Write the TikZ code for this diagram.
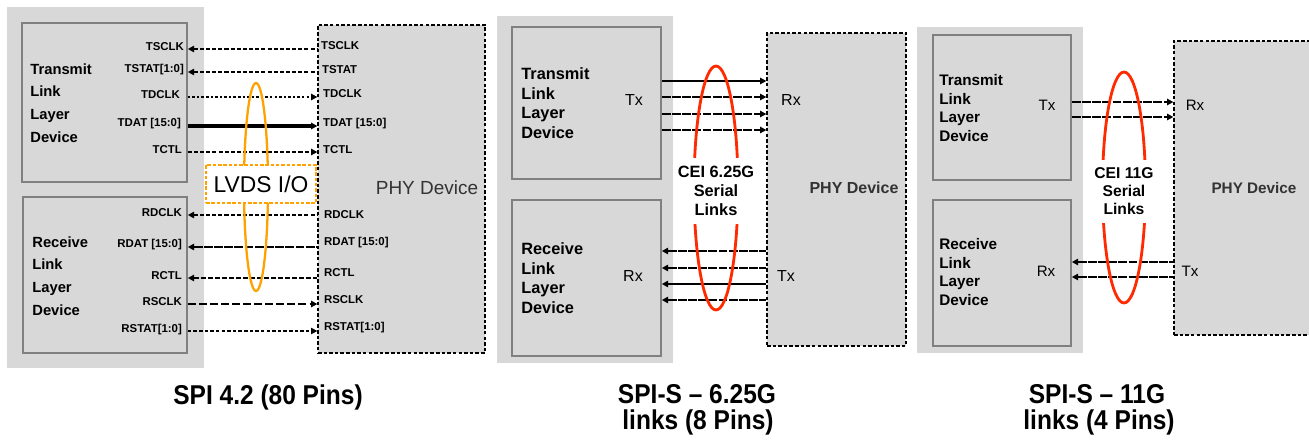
\documentclass[tikz,border=0pt]{standalone}
\usepackage{fontspec}
\usepackage{graphicx}
\setmainfont{Liberation Sans}
\usetikzlibrary{arrows.meta,shapes.geometric,fit}
\definecolor{bggray}{HTML}{D8D8D8}
\definecolor{boxgray}{HTML}{808080}
\definecolor{lvdsorange}{HTML}{FFA200}
\definecolor{linkred}{HTML}{FF2A00}
\definecolor{phytext}{HTML}{333333}
\begin{document}
\begin{tikzpicture}[x=0.02cm,y=-0.02cm,
  bgarea/.style={fill=bggray, draw=none, inner sep=0pt},
  linkbox/.style={fill=bggray, draw=boxgray, line width=0.9pt, inner sep=0pt},
  phybox/.style={fill=bggray, draw=black, dash pattern=on 2pt off 1.2pt, line width=0.7pt, inner sep=0pt},
  siglabel/.style={font=\bfseries\fontsize{6.5}{7}\selectfont, inner sep=1pt},
  toleft/.style={{Triangle[length=3.6pt,width=3.6pt]}-},
  toright/.style={-{Triangle[length=3.6pt,width=3.6pt]}},
  dashA/.style={line width=0.9pt, dash pattern=on 2.3pt off 1.2pt},
  dotB/.style={line width=1.1pt, dash pattern=on 1.4pt off 1.2pt},
  thickbus/.style={line width=1.8pt},
  busdash/.style={line width=1.6pt, dash pattern=on 5pt off 0.8pt},
  ctldash/.style={line width=1.2pt, dash pattern=on 3pt off 1pt},
  longdash/.style={line width=1.3pt, dash pattern=on 4.5pt off 1.8pt},
  thindash/.style={line width=0.6pt, dash pattern=on 2pt off 1.2pt},
  serialsolid/.style={line width=1.3pt},
  serialdash/.style={line width=1.3pt, dash pattern=on 5pt off 0.8pt},
  blocktext/.style={anchor=west, align=left, inner sep=0pt},
  txrx/.style={inner sep=0pt},
  ring/.style={ellipse, inner sep=0pt, fill=none},
  captext/.style={anchor=base, inner sep=0pt, font=\bfseries\fontsize{15.5}{18}\selectfont}
]
\useasboundingbox (0,0) rectangle (1309,444);

% ---------------- backgrounds ----------------
\node[bgarea, fit={(7,7) (204,368)}] (bg1) {};
\node[bgarea, fit={(497,16) (673,363)}] (bg2) {};
\node[bgarea, fit={(917,27) (1083,353)}] (bg3) {};

% ---------------- panel 1 boxes ----------------
\node[linkbox, fit={(22,23) (187,182)}] (tx1) {};
\node[linkbox, fit={(23,197) (187,353)}] (rx1) {};
\node[phybox, fit={(318,25) (485,353)}] (phy1) {};

% ---------------- panel 2 boxes ----------------
\node[linkbox, fit={(512,27) (661,179)}] (tx2) {};
\node[linkbox, fit={(512,200) (661,356)}] (rx2) {};
\node[phybox, fit={(767,33) (906,346)}] (phy2) {};

% ---------------- panel 3 boxes ----------------
\node[linkbox, fit={(933,35) (1071,180)}] (tx3) {};
\node[linkbox, fit={(933,200) (1071,346)}] (rx3) {};
\node[phybox, fit={(1174,41) (1320,335)}] (phy3) {};

% ---------------- panel 1 signals ----------------
\draw[dashA, toleft]   (tx1.east |- 0,49)  -- (phy1.west |- 0,49);
\draw[dashA, toleft]   (tx1.east |- 0,72)  -- (phy1.west |- 0,72);
\draw[dotB, toright]   (tx1.east |- 0,97)  -- (phy1.west |- 0,97);
\draw[thickbus, toright] (tx1.east |- 0,126) -- (phy1.west |- 0,126);
\draw[dashA, toright]  (tx1.east |- 0,152) -- (phy1.west |- 0,152);
\draw[dashA, toleft]   (rx1.east |- 0,215) -- (phy1.west |- 0,215);
\draw[busdash, toleft] (rx1.east |- 0,247) -- (phy1.west |- 0,247);
\draw[ctldash, toleft] (rx1.east |- 0,278) -- (phy1.west |- 0,278);
\draw[longdash, toright] (rx1.east |- 0,304) -- (phy1.west |- 0,304);
\draw[thindash, toright] (rx1.east |- 0,331) -- (phy1.west |- 0,331);

% ---------------- panel 2 links ----------------
\draw[serialsolid, toright] (tx2.east |- 0,81)  -- (phy2.west |- 0,81);
\draw[serialdash, toright]  (tx2.east |- 0,97)  -- (phy2.west |- 0,97);
\draw[serialdash, toright]  (tx2.east |- 0,114) -- (phy2.west |- 0,114);
\draw[serialdash, toright]  (tx2.east |- 0,130) -- (phy2.west |- 0,130);
\draw[serialdash, toleft]   (rx2.east |- 0,251) -- (phy2.west |- 0,251);
\draw[serialdash, toleft]   (rx2.east |- 0,268) -- (phy2.west |- 0,268);
\draw[serialsolid, toleft]  (rx2.east |- 0,284) -- (phy2.west |- 0,284);
\draw[serialdash, toleft]   (rx2.east |- 0,300) -- (phy2.west |- 0,300);

% ---------------- panel 3 links ----------------
\draw[serialdash, toright] (tx3.east |- 0,102) -- (phy3.west |- 0,102);
\draw[serialdash, toright] (tx3.east |- 0,117) -- (phy3.west |- 0,117);
\draw[serialdash, toleft]  (rx3.east |- 0,262) -- (phy3.west |- 0,262);
\draw[serialdash, toleft]  (rx3.east |- 0,277) -- (phy3.west |- 0,277);

% ---------------- rings ----------------
\node[ring, draw=lvdsorange, line width=1.3pt, minimum width=0.48cm, minimum height=4.16cm] (ring1) at (256,187) {};
\node[ring, draw=linkred, line width=1.6pt, minimum width=0.88cm, minimum height=4.88cm] (ring2) at (716,188) {};
\node[ring, draw=linkred, line width=1.6pt, minimum width=0.86cm, minimum height=4.62cm] (ring3) at (1124,187.5) {};

% ---------------- LVDS box ----------------
\node[fill=white, draw=lvdsorange, dash pattern=on 2pt off 1pt, line width=0.9pt,
      minimum width=2.2cm, minimum height=0.76cm, inner sep=0pt,
      font=\fontsize{13}{15}\selectfont] (lvds) at (261,184) {LVDS I/O};

% ---------------- CEI labels ----------------
\node[fill=white, align=center, inner sep=0pt, minimum height=1.32cm,
      font=\bfseries\fontsize{9.3}{10.8}\selectfont] (cei2) at (716,191) {CEI 6.25G\\Serial\\Links};
\node[fill=white, align=center, inner sep=0pt, minimum height=1.26cm,
      font=\bfseries\fontsize{8.9}{10.4}\selectfont] (cei3) at (1124,191) {CEI 11G\\Serial\\Links};

% ---------------- panel 1 texts ----------------
\node[blocktext, font=\bfseries\fontsize{8.4}{13}\selectfont] (tx1text) at (30,103) {Transmit\\Link\\Layer\\Device};
\node[blocktext, font=\bfseries\fontsize{8.4}{13}\selectfont] (rx1text) at (32,276) {Receive\\Link\\Layer\\Device};

\node[siglabel, anchor=east] (l1a) at (186,47)  {TSCLK};
\node[siglabel, anchor=east] (l1b) at (186,70)  {TSTAT[1:0]};
\node[siglabel, anchor=east] (l1c) at (182,95)  {TDCLK};
\node[siglabel, anchor=east] (l1d) at (183,124) {TDAT [15:0]};
\node[siglabel, anchor=east] (l1e) at (184,150) {TCTL};
\node[siglabel, anchor=east] (l1f) at (184,213) {RDCLK};
\node[siglabel, anchor=east] (l1g) at (184,245) {RDAT [15:0]};
\node[siglabel, anchor=east] (l1h) at (184,276) {RCTL};
\node[siglabel, anchor=east] (l1i) at (184,302) {RSCLK};
\node[siglabel, anchor=east] (l1j) at (184,330) {RSTAT[1:0]};

\node[siglabel, anchor=west] (r1a) at (319,46)  {TSCLK};
\node[siglabel, anchor=west] (r1b) at (320,70)  {TSTAT};
\node[siglabel, anchor=west] (r1c) at (321,94)  {TDCLK};
\node[siglabel, anchor=west] (r1d) at (321,124) {TDAT [15:0]};
\node[siglabel, anchor=west] (r1e) at (321,150) {TCTL};
\node[siglabel, anchor=west] (r1f) at (322,215) {RDCLK};
\node[siglabel, anchor=west] (r1g) at (322,243) {RDAT [15:0]};
\node[siglabel, anchor=west] (r1h) at (322,273) {RCTL};
\node[siglabel, anchor=west] (r1i) at (322,300) {RSCLK};
\node[siglabel, anchor=west] (r1j) at (322,328) {RSTAT[1:0]};

\node[inner sep=0pt, font=\fontsize{10.8}{12}\selectfont, text=phytext] (phy1text) at (427,188) {PHY Device};

% ---------------- panel 2 texts ----------------
\node[blocktext, font=\bfseries\fontsize{9.3}{11.2}\selectfont] (tx2text) at (521,103) {Transmit\\Link\\Layer\\Device};
\node[blocktext, font=\bfseries\fontsize{9.3}{11.2}\selectfont] (rx2text) at (521,278) {Receive\\Link\\Layer\\Device};
\node[txrx, font=\fontsize{9.1}{10}\selectfont] (tx2lbl) at (634,100) {Tx};
\node[txrx, font=\fontsize{9.1}{10}\selectfont] (rx2phy) at (791,100) {Rx};
\node[txrx, font=\fontsize{9.1}{10}\selectfont] (rx2lbl) at (633,276) {Rx};
\node[txrx, font=\fontsize{9.1}{10}\selectfont] (tx2phy) at (786,276) {Tx};
\node[inner sep=0pt, font=\bfseries\fontsize{9.1}{10}\selectfont, text=phytext] (phy2text) at (854,188) {PHY Device};

% ---------------- panel 3 texts ----------------
\node[blocktext, font=\bfseries\fontsize{8.7}{10.6}\selectfont] (tx3text) at (939,108) {Transmit\\Link\\Layer\\Device};
\node[blocktext, font=\bfseries\fontsize{8.7}{10.6}\selectfont] (rx3text) at (939,272) {Receive\\Link\\Layer\\Device};
\node[txrx, font=\fontsize{8.6}{10}\selectfont] (tx3lbl) at (1047,105) {Tx};
\node[txrx, font=\fontsize{8.6}{10}\selectfont] (rx3phy) at (1195,105) {Rx};
\node[txrx, font=\fontsize{8.6}{10}\selectfont] (rx3lbl) at (1046,271) {Rx};
\node[txrx, font=\fontsize{8.6}{10}\selectfont] (tx3phy) at (1190,271) {Tx};
\node[inner sep=0pt, font=\bfseries\fontsize{8.7}{10}\selectfont, text=phytext] (phy3text) at (1254,188) {PHY Device};

% ---------------- captions ----------------
\node[captext] (cap1) at (268,404) {\scalebox{0.9}[1]{SPI 4.2 (80 Pins)}};
\node[captext] (cap2a) at (697,403) {\scalebox{0.9}[1]{SPI-S – 6.25G}};
\node[captext] (cap2b) at (698,429) {\scalebox{0.9}[1]{links (8 Pins)}};
\node[captext] (cap3a) at (1097,403) {\scalebox{0.9}[1]{SPI-S – 11G}};
\node[captext] (cap3b) at (1099,429) {\scalebox{0.9}[1]{links (4 Pins)}};
\end{tikzpicture}
\end{document}
